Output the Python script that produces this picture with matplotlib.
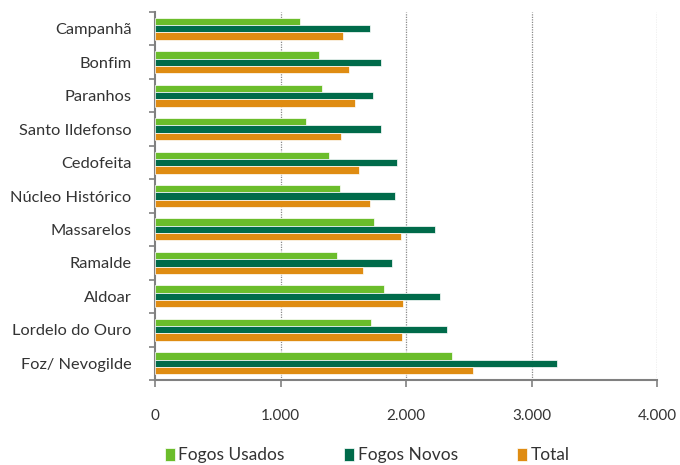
import matplotlib
matplotlib.use("Agg")
import matplotlib.pyplot as plt
from matplotlib.ticker import FuncFormatter, FixedLocator
import numpy as np

plt.rcParams['font.family'] = ['Lato', 'DejaVu Sans']

freguesias = ["Campanhã", "Bonfim", "Paranhos", "Santo Ildefonso", "Cedofeita",
              "Núcleo Histórico", "Massarelos", "Ramalde", "Aldoar",
              "Lordelo do Ouro", "Foz/ Nevogilde"]
fogos_usados = [1155, 1303, 1333, 1201, 1383, 1471, 1743, 1452, 1828, 1721, 2370]
fogos_novos = [1710, 1798, 1735, 1798, 1927, 1916, 2235, 1889, 2274, 2323, 3203]
total = [1498, 1542, 1592, 1482, 1625, 1715, 1960, 1658, 1977, 1968, 2537]

series = [("Fogos Usados", fogos_usados, "#6bbd2b"),
          ("Fogos Novos", fogos_novos, "#006b4a"),
          ("Total", total, "#df8c12")]

fig = plt.figure(figsize=(6.8, 4.65), dpi=100)
ax = fig.add_axes([155/680, 1 - 380/465, (657-155)/680, (380-12)/465])

n = len(freguesias)
centers = np.arange(n)
h = 0.22
offsets = [-h, 0, h]
for (name, vals, col), off in zip(series, offsets):
    ax.barh(centers + off, vals, height=h, color=col, edgecolor="white",
            linewidth=0.5, label=name, zorder=3)

ax.set_ylim(n - 0.5, -0.5)
ax.set_xlim(0, 4000)

# category labels at group centres, tick marks at group boundaries
ax.yaxis.set_major_locator(FixedLocator(centers))
ax.set_yticklabels(freguesias)
ax.yaxis.set_minor_locator(FixedLocator(np.arange(n + 1) - 0.5))
ax.tick_params(axis="y", which="major", length=0, pad=17, labelsize=11.8,
               labelcolor="#333333")
ax.tick_params(axis="y", which="minor", length=4, width=1.2, color="#808080")

ax.xaxis.set_major_locator(FixedLocator([0, 1000, 2000, 3000, 4000]))
ax.xaxis.set_major_formatter(FuncFormatter(lambda v, p: f"{int(v):,}".replace(",", ".")))
ax.tick_params(axis="x", length=5, width=1.2, color="#808080", pad=16,
               labelsize=11, labelcolor="#333333")

for v in [1000, 2000, 3000, 4000]:
    ax.axvline(v, color="#8a8a8a", linestyle=(0, (1, 1)), linewidth=0.9, zorder=1)

for side in ["top", "right"]:
    ax.spines[side].set_visible(False)
for side in ["left", "bottom"]:
    ax.spines[side].set_color("#808080")
    ax.spines[side].set_linewidth(1.5)

fig.legend(loc="lower center", bbox_to_anchor=(0.54, -0.03), ncol=3,
           frameon=False, fontsize=12.5, handlelength=0.6, handleheight=0.8,
           handletextpad=0.2, columnspacing=3.4, labelcolor="#333333")

fig.savefig("out.png", dpi=100)
